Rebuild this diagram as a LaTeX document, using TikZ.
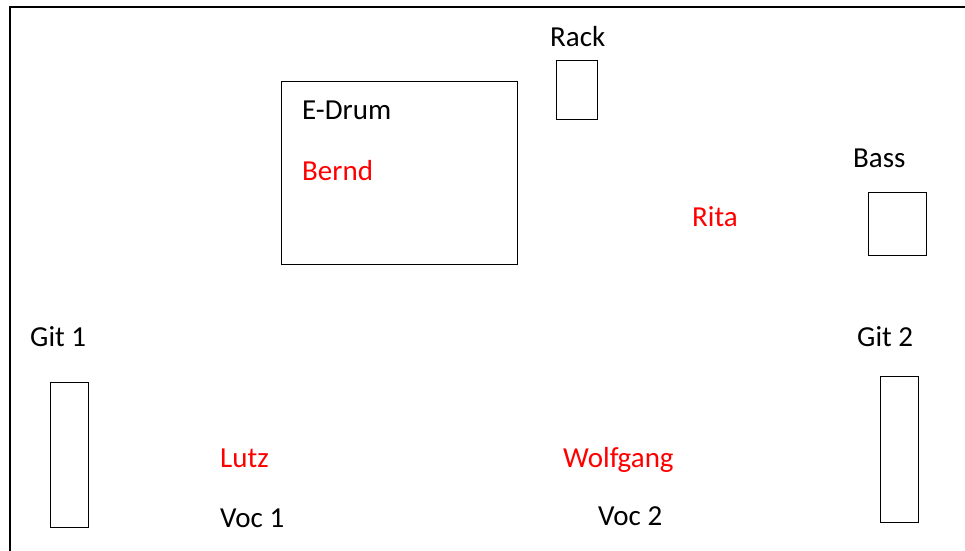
\documentclass[tikz,border=0pt]{standalone}
\usepackage{fontspec}
\setmainfont{Carlito}
\usetikzlibrary{positioning}
\tikzstyle{plan}=[x=1pt, y=-1pt, font=\fontsize{29}{34}\selectfont]
\tikzstyle{gear}=[draw, rectangle, line width=1pt, inner sep=0pt]
\tikzstyle{lbl}=[anchor=base west, inner sep=0pt]
\tikzstyle{who}=[lbl, text=red]

\begin{document}
\begin{tikzpicture}[plan]
          \useasboundingbox (0,0) rectangle (965,550);
          \draw[line width=2pt] (10,551) -- (10,7) -- (966,7);

          % equipment
          \node[gear, minimum width=236pt, minimum height=183pt] (drum)  at (399,172.5) {};
          \node[gear, minimum width=41pt,  minimum height=59pt]  (rack)  at (576.5,89.5) {};
          \node[gear, minimum width=58pt,  minimum height=63pt]  (bass)  at (897,223.5) {};
          \node[gear, minimum width=38pt,  minimum height=145pt] (git1)  at (69,454.5) {};
          \node[gear, minimum width=38pt,  minimum height=146pt] (git2)  at (899,449) {};

          % labels
          \node[lbl] (tdrum) at (302,119) {E-Drum};
          \node[lbl] (track) at (550,46)  {Rack};
          \node[lbl] (tbass) at (853,167) {Bass};
          \node[lbl] (tgit1) at (30,346)  {Git 1};
          \node[lbl] (tgit2) at (857,346) {Git 2};
          \node[lbl] (voc1)  at (220,527) {Voc 1};
          \node[lbl] (voc2)  at (598,525) {Voc 2};

          % people
          \node[who] (bernd)    at (302,180) {Bernd};
          \node[who] (rita)     at (692,226) {Rita};
          \node[who] (lutz)     at (220,467) {Lutz};
          \node[who] (wolfgang) at (563,467) {Wolfgang};
        \end{tikzpicture}
\end{document}
